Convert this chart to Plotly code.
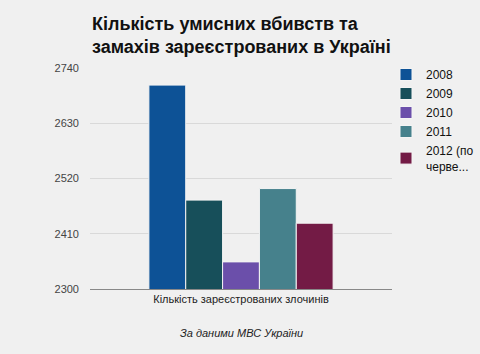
import plotly.graph_objects as go

category = ["Кількість зареєстрованих злочинів"]
series_names = ["2008", "2009", "2010", "2011", "2012 (по<br>черве..."]
values = [2706, 2477, 2354, 2500, 2431]
colors = ["#0d5296", "#174f5a", "#6b4faa", "#46818c", "#731b45"]
y_ticks = [2300, 2410, 2520, 2630, 2740]
title_text = "Кількість умисних вбивств та<br>замахів зареєстрованих в Україні"
caption = "За даними МВС України"

fig = go.Figure()
for name, v, c in zip(series_names, values, colors):
    fig.add_trace(go.Bar(x=category, y=[v], name=name, marker=dict(color=c, line=dict(color="#f4f4f4", width=1))))

W, H = 480, 354
L, R, T, B = 90, 88, 68, 65
PH = H - T - B
fig.update_layout(
    width=W, height=H,
    margin=dict(l=L, r=R, t=T, b=B, autoexpand=False),
    paper_bgcolor="#f0f0f0", plot_bgcolor="#f0f0f0",
    barmode="group", bargap=0.39, bargroupgap=0.0,
    font=dict(family="Liberation Sans, Arial, sans-serif", size=11, color="#222"),
    legend=dict(x=386 / W, xref="container", y=1 - 60 / H, yref="container",
                xanchor="left", yanchor="top", bgcolor="rgba(0,0,0,0)",
                font=dict(size=12, color="#111"), itemwidth=30),
    showlegend=True,
)
fig.update_yaxes(range=[2300, 2740], tickvals=y_ticks, ticktext=[str(t) for t in y_ticks],
                 showgrid=True, gridcolor="#d9d9d9", gridwidth=1, zeroline=False,
                 tickfont=dict(size=11, color="#444"), ticks="", ticklabelstandoff=10,
                 showline=False)
fig.update_xaxes(showline=True, linecolor="#888", linewidth=1, ticks="",
                 tickfont=dict(size=11, color="#222"))
fig.add_annotation(text="<b>" + title_text + "</b>", x=0, xref="paper", xanchor="left", align="left",
                   y=(PH + T - 12) / PH, yref="paper", yanchor="top", showarrow=False,
                   font=dict(size=18, color="#111"))
fig.add_annotation(text=caption, x=0.5, xref="paper", y=-(333 - 289) / PH, yref="paper",
                   showarrow=False, font=dict(size=11, color="#222", style="italic"), yanchor="middle")
fig.write_html("out.html")
